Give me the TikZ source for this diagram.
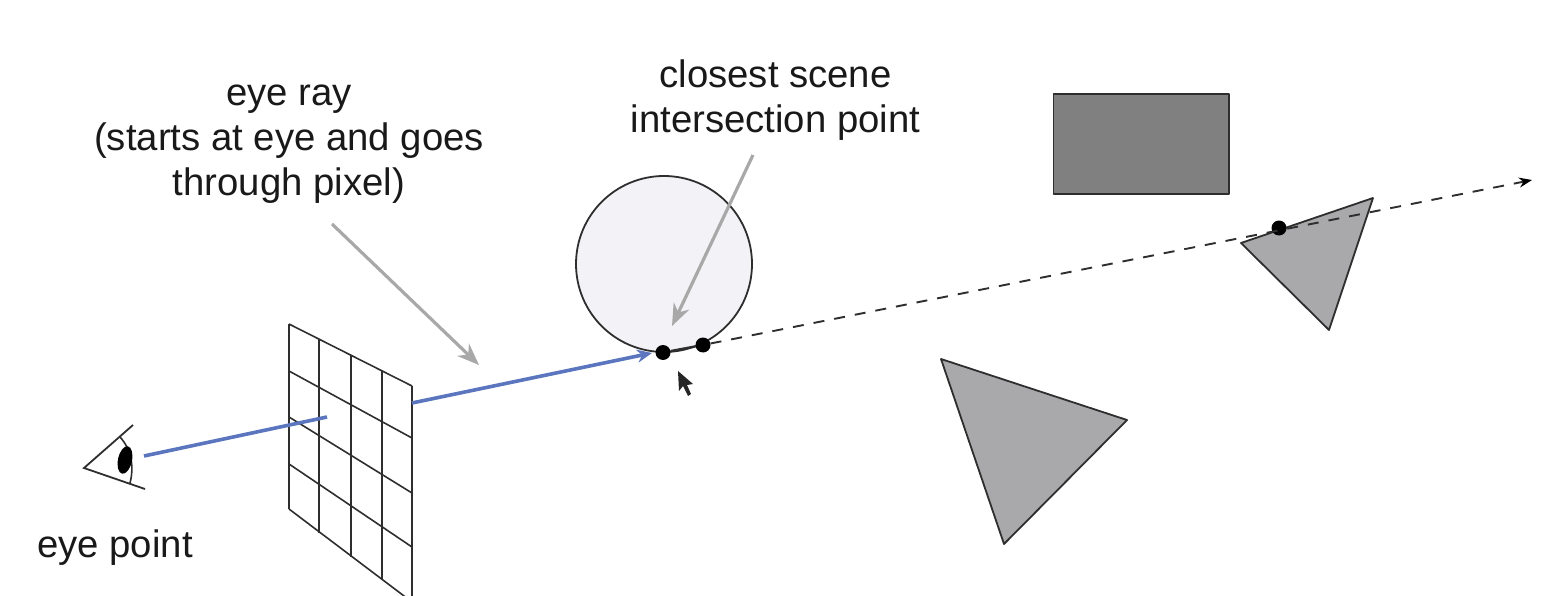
\documentclass[tikz,border=0pt]{standalone}
\usepackage{fontspec}
\setmainfont{Liberation Sans}
\usetikzlibrary{arrows.meta}
\definecolor{rayblue}{HTML}{5B76BE}
\definecolor{arrowgrey}{HTML}{A8A8A8}
\definecolor{inkline}{HTML}{2E2E2E}
\definecolor{ballfill}{HTML}{F3F2F6}
\definecolor{boxfill}{HTML}{808080}
\definecolor{trifill}{HTML}{A9A8AA}
\tikzset{
  x=1pt,y=-1pt,
  label text/.style={font=\fontsize{38.3}{45}\selectfont,align=center,text=black!90,inner sep=0pt},
  hit dot/.style={circle,fill=black,inner sep=0pt,minimum size=15pt},
  solid shape/.style={draw=inkline,line width=1.8pt,line join=round},
  grid line/.style={draw=inkline,line width=1.6pt},
  blue ray/.style={draw=rayblue,line width=3.6pt},
  pointer/.style={draw=arrowgrey,line width=3.2pt,-{Stealth[length=22pt,width=17pt,inset=7pt]}},
}
\begin{document}
\begin{tikzpicture}
\useasboundingbox (0,0) rectangle (1544,596);
\clip (0,0) rectangle (1544,596);
% scene objects
\draw[solid shape,fill=ballfill] (664,264) circle[radius=88];
\draw[solid shape,fill=boxfill] (1053.5,94) rectangle (1229,194);
\draw[solid shape,fill=trifill] (941,359) -- (1127,420) -- (1004,544) -- cycle;
\draw[solid shape,fill=trifill] (1241,243) -- (1373,198) -- (1329,330) -- cycle;
% image plane
\foreach \xa/\ya/\yb in {289/324/509,319/339/533,351/355/557,382/371/579,412/386/602}
  \draw[grid line] (\xa,\ya) -- (\xa,\yb);
\foreach \ya/\yb in {324/386,371/438,417/493,464/547,509/602}
  \draw[grid line] (289,\ya) -- (412,\yb);
% eye
\draw[line width=1.8pt,draw=inkline,line join=miter] (133,425) -- (84,468) -- (145,489);
\draw[line width=1.6pt,draw=inkline] (120,437) .. controls (132,450) and (134,468) .. (130,483);
\fill[black] (125,460) ellipse[x radius=7,y radius=14,rotate=-12];
% named points
\coordinate (eyeStart) at (144,456);
\coordinate (pixel) at (327,417);
\coordinate (planeExit) at (412,403);
\coordinate (rayEnd) at (1532,180);
\coordinate (rayTipA) at (652,353);
\coordinate (p1) at (332,224);
\coordinate (p1end) at (479,365);
\coordinate (p2) at (753,155);
\coordinate (p2end) at (672,326);
\node[hit dot] (hitA) at (663,352.5) {};
\node[hit dot] (hitB) at (703,345) {};
\node[hit dot] (hitC) at (1279,228) {};
% rays
\draw[blue ray] (eyeStart) -- (pixel);
\draw[blue ray,-{Stealth[length=15pt,width=13pt]}] (planeExit) -- (rayTipA);
\draw[line width=2.4pt,draw=inkline] (hitA) -- (hitB);
\draw[line width=1.9pt,draw=inkline,dash pattern=on 11pt off 10pt,-{Stealth[length=13pt,width=10pt,black]}] (hitB) -- (rayEnd);
% pointers
\draw[pointer] (p1) -- (p1end);
\draw[pointer] (p2) -- (p2end);
% cursor
\fill[black!85] (678,371) -- (679,391) -- (683,386) -- (688,396) -- (691,394) -- (687,385) -- (693,384) -- cycle;
% labels
\node[label text] (eyeray) at (289,144.5) {eye ray\\(starts at eye and goes\\through pixel)};
\node[label text] (closest) at (775.5,100) {closest scene\\intersection point};
\node[label text] (eyept) at (115,548) {eye point};
\end{tikzpicture}
\end{document}
